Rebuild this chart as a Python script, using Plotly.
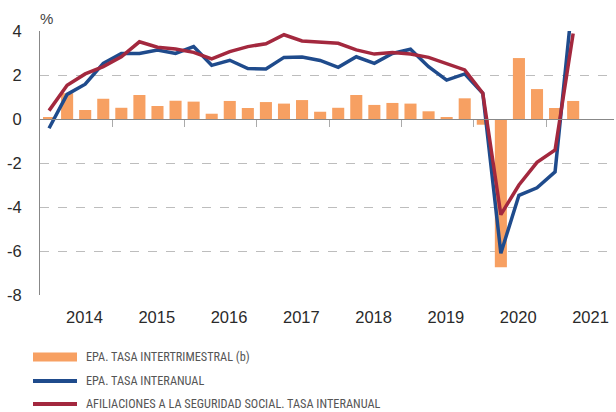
import plotly.graph_objects as go

# ---- data (2014 T1 .. 2021 T2) ----
years = [2014, 2015, 2016, 2017, 2018, 2019, 2020, 2021]
quarters = [f"{y}-T{q}" for y in years for q in range(1, 5)][:30]

epa_intertrimestral = [0.06, 1.17, 0.41, 0.92, 0.51, 1.09, 0.59, 0.83,
                       0.79, 0.24, 0.82, 0.50, 0.77, 0.70, 0.86, 0.33,
                       0.51, 1.09, 0.64, 0.73, 0.70, 0.35, 0.09, 0.94,
                       -0.26, -6.74, 2.77, 1.36, 0.50, 0.82]
epa_interanual = [-0.42, 1.12, 1.58, 2.53, 2.98, 2.98, 3.14, 2.98,
                  3.29, 2.44, 2.67, 2.29, 2.27, 2.80, 2.82, 2.66,
                  2.35, 2.83, 2.53, 2.98, 3.17, 2.38, 1.77, 2.05,
                  1.17, -6.10, -3.47, -3.13, -2.40, 5.70]
afiliaciones = [0.38, 1.53, 2.05, 2.38, 2.83, 3.51, 3.26, 3.18,
                3.03, 2.73, 3.06, 3.29, 3.42, 3.83, 3.55, 3.51,
                3.44, 3.14, 2.95, 3.02, 2.95, 2.80, 2.53, 2.23,
                1.17, -4.35, -3.00, -1.97, -1.41, 3.89]

legend_labels = ["EPA. TASA INTERTRIMESTRAL (b)",
                 "EPA. TASA INTERANUAL",
                 "AFILIACIONES A LA SEGURIDAD SOCIAL. TASA INTERANUAL"]
y_ticks = [4, 2, 0, -2, -4, -6, -8]

# numeric position of each quarter (centre of the quarter)
def qpos(label):
    y, q = label.split("-T")
    return int(y) + (int(q) - 0.5) / 4

xq = [qpos(q) for q in quarters]

ORANGE = "#F7A062"
BLUE = "#1F4B8C"
RED = "#A3283E"
FONT = "Liberation Sans, Arial, sans-serif"
NARROW = "Roboto Condensed, Liberation Sans Narrow, DejaVu Sans Condensed, sans-serif"

fig = go.Figure()
fig.add_trace(go.Bar(x=xq, y=epa_intertrimestral, marker_color=ORANGE,
                     marker_line_width=0, width=0.167, name=legend_labels[0],
                     showlegend=False, xaxis="x", yaxis="y"))
fig.add_trace(go.Scatter(x=xq, y=epa_interanual, mode="lines",
                         line=dict(color=BLUE, width=3.5), name=legend_labels[1],
                         showlegend=False, xaxis="x2", yaxis="y"))
fig.add_trace(go.Scatter(x=xq, y=afiliaciones, mode="lines",
                         line=dict(color=RED, width=3.5), name=legend_labels[2],
                         showlegend=False, xaxis="x2", yaxis="y"))

xr = [2014, 2021.94]
fig.update_layout(
    width=616, height=412,
    margin=dict(l=40, r=2, t=31, b=117),
    paper_bgcolor="white", plot_bgcolor="white",
    font=dict(family=FONT, size=16.5, color="#2a2a2a"),
    xaxis=dict(range=xr, tickvals=[y + 0.615 for y in years],
               ticktext=[str(y) for y in years], ticks="", showgrid=False,
               zeroline=False, showline=False, ticklabelstandoff=10),
    xaxis2=dict(range=xr, overlaying="x", anchor="free", position=176 / 264,
                matches="x", tickvals=years[1:], showticklabels=False,
                ticks="outside", ticklen=7, tickcolor="#aaaaaa",
                showline=True, linecolor="#888888", linewidth=1.2,
                showgrid=False, zeroline=False),
    yaxis=dict(range=[-8, 4], tickvals=y_ticks,
               ticktext=[str(v) for v in y_ticks], ticks="",
               showgrid=True, gridcolor="#bdbdbd", griddash="dash", gridwidth=1.2,
               zeroline=False, showline=True, linecolor="#888888", linewidth=1.2,
               ticklabelstandoff=14),
    bargap=0.33,
)

# "%" unit label
fig.add_annotation(text="%", xref="paper", yref="paper", x=-0.004, y=1.0,
                   yshift=13, xanchor="left", yanchor="middle", showarrow=False,
                   font=dict(size=15, color="#444444", family=FONT))

# custom legend
H = 264.0
W = 574.0
rows = [357, 381, 404]
colors = [ORANGE, BLUE, RED]
widths = [9, 4, 4]
for lab, col, py, lw in zip(legend_labels, colors, rows, widths):
    yp = (295 - py) / H
    fig.add_shape(type="line", xref="paper", yref="paper",
                  x0=(33 - 40) / W, x1=(77 - 40) / W, y0=yp, y1=yp,
                  line=dict(color=col, width=lw))
    fig.add_annotation(text=lab, xref="paper", yref="paper", x=(84 - 40) / W,
                       y=yp, xanchor="left", yanchor="middle", showarrow=False,
                       font=dict(size=12.3, color="#555555", family=NARROW))

fig.write_html("out.html", config={"displayModeBar": False},
               post_script="document.body.style.margin='0px';")
